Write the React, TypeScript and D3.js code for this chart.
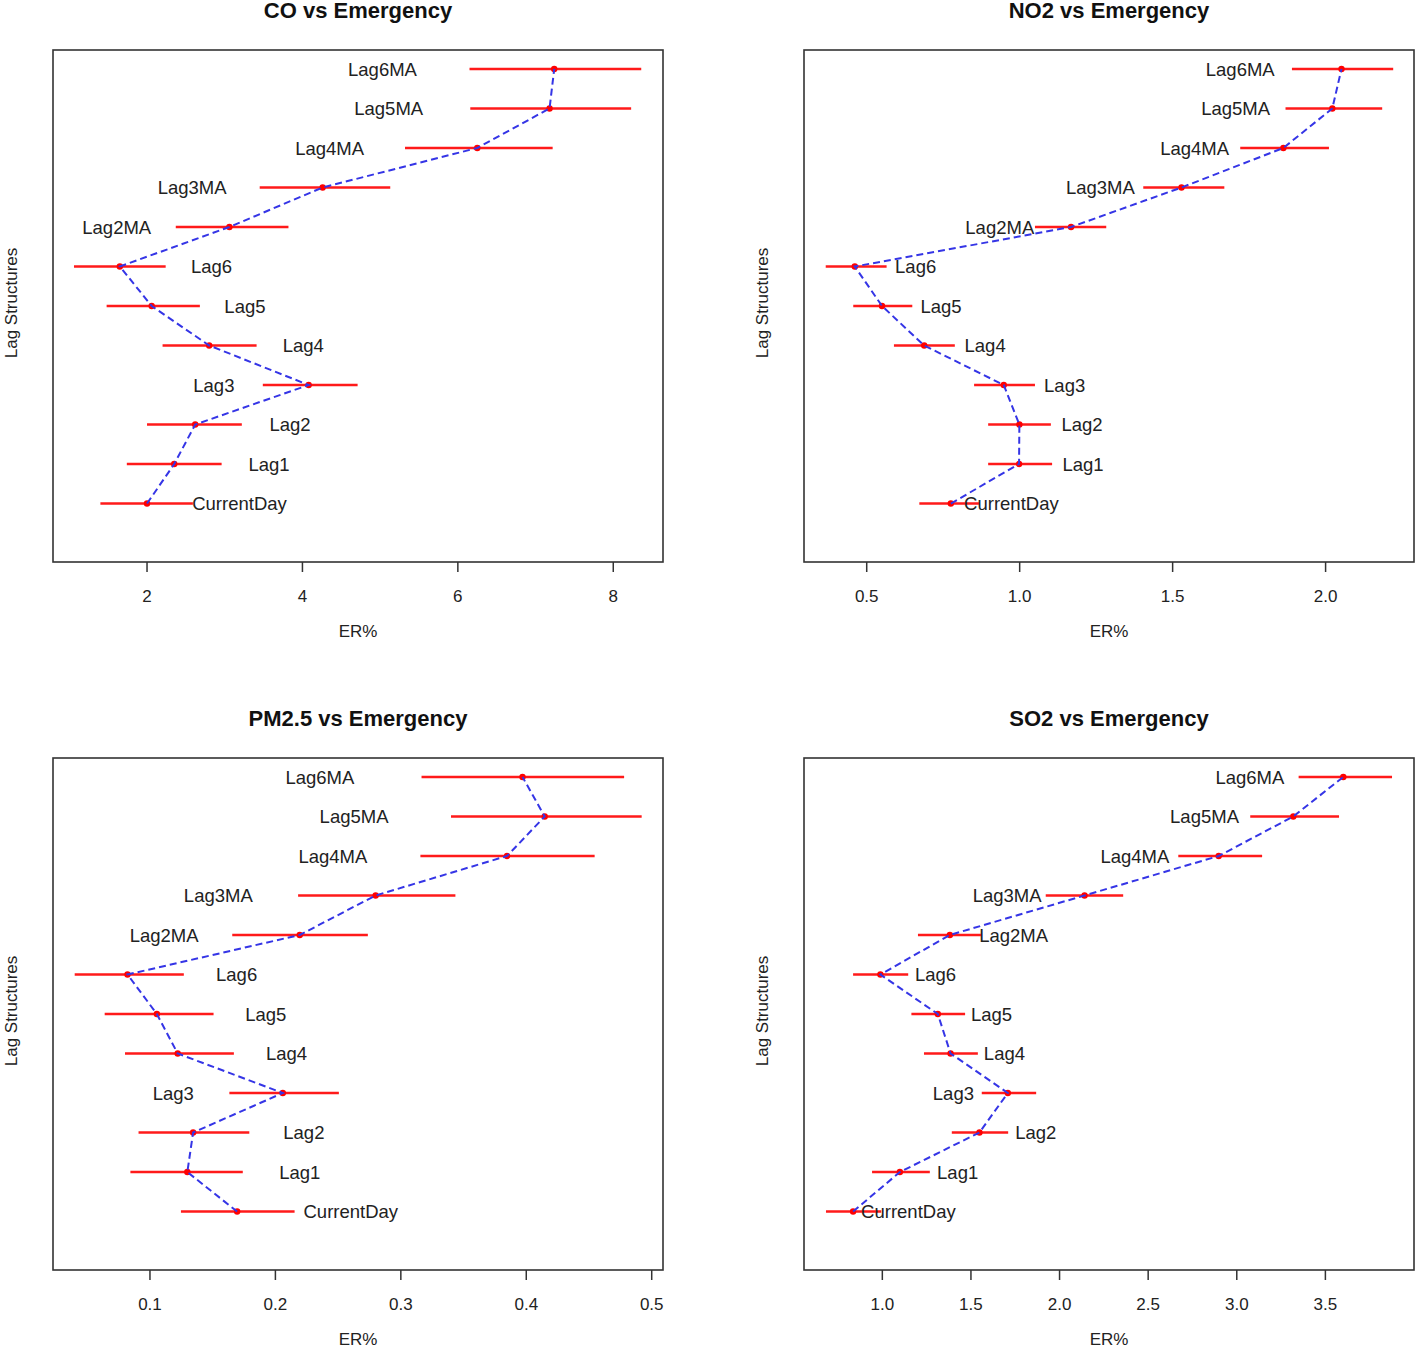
import React from "react";
import * as d3 from "d3";

// Lag structures, bottom (position 1) to top (position 12)
const lagLabels = ["CurrentDay", "Lag1", "Lag2", "Lag3", "Lag4", "Lag5", "Lag6", "Lag2MA", "Lag3MA", "Lag4MA", "Lag5MA", "Lag6MA"];

// CO
const coEst = [2.0, 2.35, 2.62, 4.08, 2.8, 2.06, 1.65, 3.06, 4.26, 6.25, 7.18, 7.24];
const coLow = [1.4, 1.74, 2.0, 3.49, 2.2, 1.48, 1.06, 2.37, 3.45, 5.32, 6.16, 6.15];
const coUp = [2.59, 2.96, 3.22, 4.71, 3.41, 2.68, 2.24, 3.82, 5.13, 7.22, 8.23, 8.36];
const coSide = [1, 1, 1, -1, 1, 1, 1, -1, -1, -1, -1, -1];
const coTicks = [2, 4, 6, 8];
const coLim = [0.79, 8.64];

// NO2
const no2Est = [0.775, 0.998, 0.999, 0.948, 0.688, 0.55, 0.461, 1.168, 1.529, 1.862, 2.022, 2.052];
const no2Low = [0.672, 0.897, 0.897, 0.851, 0.589, 0.456, 0.366, 1.05, 1.404, 1.721, 1.869, 1.89];
const no2Up = [0.87, 1.106, 1.102, 1.05, 0.788, 0.649, 0.565, 1.283, 1.669, 2.011, 2.185, 2.221];
const no2Side = [1, 1, 1, 1, 1, 1, 1, -1, -1, -1, -1, -1];
const no2Ticks = [0.5, 1.0, 1.5, 2.0];
const no2Lim = [0.295, 2.289];

// PM2.5
const pmEst = [0.1695, 0.1298, 0.1344, 0.2059, 0.1221, 0.1055, 0.0821, 0.2194, 0.2799, 0.3847, 0.4147, 0.397];
const pmLow = [0.1247, 0.0844, 0.0909, 0.1633, 0.0801, 0.0639, 0.04, 0.1656, 0.2181, 0.3156, 0.34, 0.3165];
const pmUp = [0.2153, 0.174, 0.1792, 0.2506, 0.1669, 0.1507, 0.127, 0.2737, 0.3435, 0.4545, 0.492, 0.478];
const pmSide = [1, 1, 1, -1, 1, 1, 1, -1, -1, -1, -1, -1];
const pmTicks = [0.1, 0.2, 0.3, 0.4, 0.5];
const pmLim = [0.0227, 0.509];

// SO2
const so2Est = [0.835, 1.099, 1.548, 1.708, 1.385, 1.313, 0.989, 1.381, 2.141, 2.898, 3.319, 3.601];
const so2Low = [0.682, 0.942, 1.392, 1.561, 1.235, 1.164, 0.835, 1.201, 1.922, 2.67, 3.076, 3.349];
const so2Up = [0.994, 1.268, 1.71, 1.868, 1.539, 1.467, 1.146, 1.561, 2.359, 3.143, 3.577, 3.876];
const so2Side = [1, 1, 1, -1, 1, 1, 1, 1, -1, -1, -1, -1];
const so2Ticks = [1.0, 1.5, 2.0, 2.5, 3.0, 3.5];
const so2Lim = [0.558, 4.0];

const titles = ["CO vs Emergency", "NO2 vs Emergency", "PM2.5 vs Emergency", "SO2 vs Emergency"];

const FONT = "'Liberation Sans', Arial, Helvetica, sans-serif";

type PanelProps = {
  title: string;
  est: number[];
  low: number[];
  up: number[];
  side: number[];
  ticks: number[];
  lim: number[];
  fmt: (v: number) => string;
  x0: number;
  y0: number;
};

function Panel({ title, est, low, up, side, ticks, lim, fmt, x0, y0 }: PanelProps) {
  const W = 610;
  const H = 512;
  const x = d3.scaleLinear().domain(lim).range([x0, x0 + W]);
  const y = d3.scaleLinear().domain([-0.48, 12.48]).range([y0 + H, y0]);
  const pos = lagLabels.map((_, i) => i + 1);
  const line = d3
    .line<number>()
    .x((d) => x(d))
    .y((d, i) => y(pos[i]));
  const cx = x0 + W / 2;
  return (
    <g>
      <text x={cx} y={y0 - 32} textAnchor="middle" fontFamily={FONT} fontWeight="bold" fontSize={22} fill="#111">
        {title}
      </text>
      <text
        transform={`translate(${x0 - 36},${y0 + 253}) rotate(-90)`}
        textAnchor="middle"
        fontFamily={FONT}
        fontSize={17}
        fill="#222"
      >
        Lag Structures
      </text>
      <rect x={x0} y={y0} width={W} height={H} fill="none" stroke="#333" strokeWidth={1.6} />
      {ticks.map((t) => (
        <g key={t}>
          <line x1={x(t)} x2={x(t)} y1={y0 + H} y2={y0 + H + 10} stroke="#333" strokeWidth={1.5} />
          <text x={x(t)} y={y0 + H + 40} textAnchor="middle" fontFamily={FONT} fontSize={17} fill="#222">
            {fmt(t)}
          </text>
        </g>
      ))}
      <text x={cx} y={y0 + H + 75} textAnchor="middle" fontFamily={FONT} fontSize={17} fill="#222">
        ER%
      </text>
      {lagLabels.map((lab, i) => (
        <line
          key={"b" + lab}
          x1={x(low[i])}
          x2={x(up[i])}
          y1={y(pos[i])}
          y2={y(pos[i])}
          stroke="#ff1a1a"
          strokeWidth={2.4}
        />
      ))}
      {lagLabels.map((lab, i) => (
        <text
          key={"t" + lab}
          x={x(est[i] + side[i] * (up[i] - low[i]))}
          y={y(pos[i])}
          dy="0.36em"
          textAnchor="middle"
          fontFamily={FONT}
          fontSize={18.5}
          fill="#222"
        >
          {lab}
        </text>
      ))}
      {lagLabels.map((lab, i) => (
        <circle key={"p" + lab} cx={x(est[i])} cy={y(pos[i])} r={3.2} fill="#ff0000" />
      ))}
      <path d={line(est) || ""} fill="none" stroke="#3535e6" strokeWidth={2} strokeDasharray="7,4" />
    </g>
  );
}

export default function App() {
  const f0 = (v: number) => d3.format("d")(v);
  const f1 = (v: number) => d3.format(".1f")(v);
  return (
    <svg width={1418} height={1347} style={{ position: "absolute", left: 0, top: 0, background: "#fff" }}>
      <rect width={1418} height={1347} fill="#fff" />
      <Panel title={titles[0]} est={coEst} low={coLow} up={coUp} side={coSide} ticks={coTicks} lim={coLim} fmt={f0} x0={53} y0={50} />
      <Panel title={titles[1]} est={no2Est} low={no2Low} up={no2Up} side={no2Side} ticks={no2Ticks} lim={no2Lim} fmt={f1} x0={804} y0={50} />
      <Panel title={titles[2]} est={pmEst} low={pmLow} up={pmUp} side={pmSide} ticks={pmTicks} lim={pmLim} fmt={f1} x0={53} y0={758} />
      <Panel title={titles[3]} est={so2Est} low={so2Low} up={so2Up} side={so2Side} ticks={so2Ticks} lim={so2Lim} fmt={f1} x0={804} y0={758} />
    </svg>
  );
}
